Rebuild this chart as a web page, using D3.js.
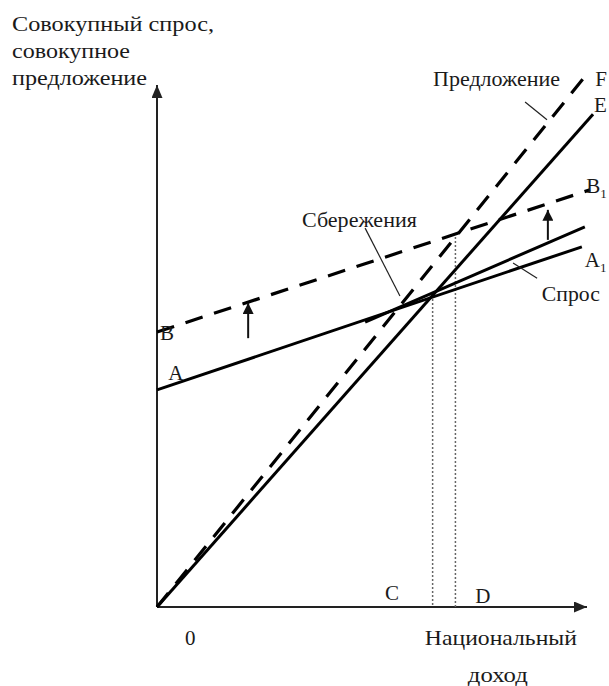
<!DOCTYPE html>
<html>
<head>
<meta charset="utf-8">
<script src="https://cdn.jsdelivr.net/npm/d3@7"></script>
<style>
  body { margin: 0; background: #fff; }
  text { font-family: "Liberation Serif", "Times New Roman", serif; fill: #1a1a1a; }
</style>
</head>
<body>
<div id="vis"></div>
<script>
// canvas size
const WIDTH = 609;
const HEIGHT = 686;

// lines of the diagram (national income, aggregate demand/supply)
const supplyE = [[0, 0], [101.4, 113.3]];
const supplyF = [[0, 0], [100.7, 123.4]];
const demandA = [[0, 49.9], [98.8, 82.8]];
const demandB = [[0, 63.2], [100.7, 95.9]];
const demandUpper = [[48.4, 65.5], [99.5, 87.4]];

// equilibrium points (dotted drop lines)
const equilibria = [[64.1, 71.7], [69.4, 86.0]];

// shift arrows A -> B
const shiftArrows = [
  [[21.2, 61.8], [21.2, 69.9]],
  [[90.9, 84.4], [90.9, 91.3]]
];

// thin pointer lines from captions
const pointers = [
  [[48.4, 87.1], [56.5, 71.5]],
  [[85.6, 116.1], [90.7, 112.0]],
  [[88.4, 75.6], [82.8, 79.1]]
];

// captions: text, x, y, subscript, width in px (0 = natural)
const labels = [
  ["Предложение", 64.2, 119.8, "", 127],
  ["F", 101.9, 119.8, "", 0],
  ["E", 101.6, 113.8, "", 0],
  ["B", 99.8, 95.2, "1", 0],
  ["A", 99.5, 78.2, "1", 0],
  ["Спрос", 89.5, 70.3, "", 58],
  ["Сбережения", 33.7, 87.4, "", 115],
  ["A", 2.6, 52.2, "", 0],
  ["B", 0.7, 61.4, "", 0],
  ["C", 53.0, 1.6, "", 0],
  ["D", 74.0, 0.9, "", 0],
  ["0", 6.5, -8.7, "", 0],
  ["Национальный", 62.3, -8.7, "", 152],
  ["доход", 72.3, -17.2, "", 60]
];

const yTitle = ["Совокупный спрос,", "совокупное", "предложение"];
const yTitleWidths = [202, 118, 135];

const x = d3.scaleLinear().domain([0, 100]).range([157, 587]);
const y = d3.scaleLinear().domain([0, 120]).range([607, 85]);

const svg = d3.select("#vis")
  .append("svg")
    .attr("width", WIDTH)
    .attr("height", HEIGHT);

const defs = svg.append("defs");
function addMarker(id, w, h, color) {
  defs.append("marker")
    .attr("id", id)
    .attr("markerUnits", "userSpaceOnUse")
    .attr("viewBox", "0 0 " + w + " " + h)
    .attr("refX", w)
    .attr("refY", h / 2)
    .attr("markerWidth", w)
    .attr("markerHeight", h)
    .attr("orient", "auto")
    .append("path")
      .attr("d", "M0,0L" + w + "," + (h / 2) + "L0," + h + "Z")
      .attr("fill", color);
}
addMarker("axisHead", 13, 11, "#222");
addMarker("shiftHead", 11, 11, "#111");

const line = d3.line().x(d => x(d[0])).y(d => y(d[1]));

// axes
svg.append("line")
  .attr("x1", x(0)).attr("y1", y(0))
  .attr("x2", x(0)).attr("y2", y(120))
  .attr("stroke", "#222").attr("stroke-width", 2)
  .attr("marker-end", "url(#axisHead)");
svg.append("line")
  .attr("x1", x(0)).attr("y1", y(0))
  .attr("x2", x(100)).attr("y2", y(0))
  .attr("stroke", "#222").attr("stroke-width", 2)
  .attr("marker-end", "url(#axisHead)");

// dotted drop lines
svg.selectAll(".drop")
  .data(equilibria)
  .enter()
  .append("line")
    .attr("x1", d => x(d[0])).attr("y1", d => y(d[1]))
    .attr("x2", d => x(d[0])).attr("y2", y(0))
    .attr("stroke", "#666")
    .attr("stroke-width", 1.5)
    .attr("stroke-dasharray", "2,2");

// solid lines
[supplyE, demandA, demandUpper].forEach(pts => {
  svg.append("path")
    .attr("d", line(pts))
    .attr("fill", "none")
    .attr("stroke", "#000")
    .attr("stroke-width", 3);
});

// dashed lines
[supplyF, demandB].forEach(pts => {
  svg.append("path")
    .attr("d", line(pts))
    .attr("fill", "none")
    .attr("stroke", "#000")
    .attr("stroke-width", 3.2)
    .attr("stroke-dasharray", "18,12");
});

// pointers
svg.selectAll(".ptr")
  .data(pointers)
  .enter()
  .append("path")
    .attr("d", d => line(d))
    .attr("fill", "none")
    .attr("stroke", "#222")
    .attr("stroke-width", 1.2);

// shift arrows
svg.selectAll(".shift")
  .data(shiftArrows)
  .enter()
  .append("path")
    .attr("d", d => line(d))
    .attr("fill", "none")
    .attr("stroke", "#111")
    .attr("stroke-width", 2)
    .attr("marker-end", "url(#shiftHead)");

// captions
const lab = svg.selectAll(".lab")
  .data(labels)
  .enter()
  .append("text")
    .attr("x", d => x(d[1]))
    .attr("y", d => y(d[2]))
    .style("font-size", "21px");
lab.append("tspan")
  .attr("textLength", d => d[4] || null)
  .attr("lengthAdjust", "spacingAndGlyphs")
  .text(d => d[0]);
lab.append("tspan")
  .attr("dy", 5)
  .style("font-size", "13px")
  .text(d => d[3]);

// y axis title
svg.selectAll(".title")
  .data(yTitle)
  .enter()
  .append("text")
    .attr("x", 12)
    .attr("y", (d, i) => 31 + i * 27)
    .attr("textLength", (d, i) => yTitleWidths[i])
    .attr("lengthAdjust", "spacingAndGlyphs")
    .style("font-size", "21px")
    .text(d => d);
</script>
</body>
</html>
